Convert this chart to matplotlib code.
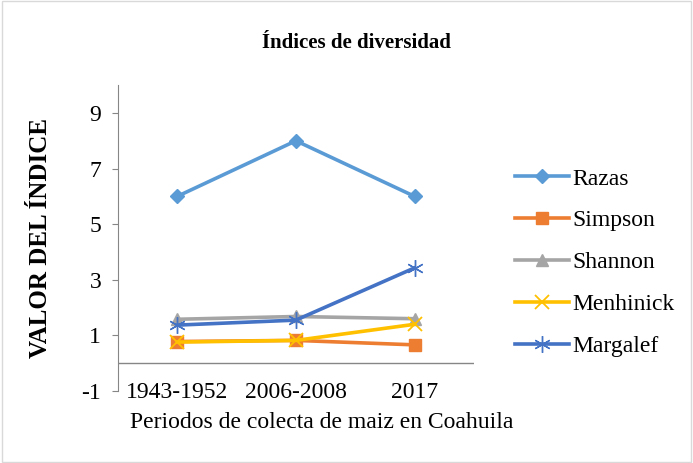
import matplotlib
matplotlib.use("Agg")
import matplotlib.pyplot as plt
from matplotlib.patches import Rectangle

periods = ["1943-1952", "2006-2008", "2017"]
razas = [6, 8, 6]
simpson = [0.78, 0.82, 0.66]
shannon = [1.58, 1.68, 1.6]
menhinick = [0.76, 0.82, 1.4]
margalef = [1.37, 1.55, 3.43]
yticks = [-1, 1, 3, 5, 7, 9]

plt.rcParams['font.family'] = ['Liberation Serif', 'DejaVu Serif']

fig = plt.figure(figsize=(6.93, 4.63), dpi=100)
fig.patches.append(Rectangle((0.003, 0.003), 0.994, 0.994, transform=fig.transFigure,
                             fill=False, edgecolor='#D9D9D9', linewidth=1))
ax = fig.add_axes([0.170, 0.1555, 0.514, 0.6605])

x = list(range(len(periods)))
series = [
    ("Razas", razas, '#5B9BD5', dict(marker='D', markersize=7)),
    ("Simpson", simpson, '#ED7D31', dict(marker='s', markersize=9)),
    ("Shannon", shannon, '#A5A5A5', dict(marker='^', markersize=9)),
    ("Menhinick", menhinick, '#FFC000', dict(marker='x', markersize=10, markeredgewidth=1.3)),
    ("Margalef", margalef, '#4472C4', dict(marker=(6, 2, 0), markersize=12, markeredgewidth=1.0)),
]
for name, vals, col, mk in series:
    ax.plot(x, vals, color=col, linewidth=2.6, label=name,
            markerfacecolor=col, markeredgecolor=col, **mk)

ax.set_xlim(-0.5, 2.5)
ax.set_ylim(-1, 10)
ax.set_yticks(yticks)
ax.set_yticklabels([str(t) for t in yticks], fontsize=17)
ax.set_xticks(x)
ax.set_xticklabels(periods, fontsize=17)
for lab in ax.get_xticklabels():
    lab.set_verticalalignment('center')
ax.tick_params(axis='x', length=0, pad=1)
ax.tick_params(axis='y', length=4.5, color='#868686', direction='out', pad=7.5)

for s in ['top', 'right', 'bottom']:
    ax.spines[s].set_visible(False)
ax.spines['left'].set_color('#868686')
ax.axhline(0, color='#868686', linewidth=1, zorder=0)

fig.text(322 / 693, 1 - 422 / 463, "Periodos de colecta de maiz en Coahuila",
         ha='center', va='center', fontsize=17)
ax.set_ylabel("VALOR DEL ÍNDICE", fontsize=18, fontweight='bold', labelpad=21)

fig.text(0.515, 0.908, "Índices de diversidad", ha='center', va='center',
         fontsize=15, fontweight='bold')

leg = ax.legend(loc='center left', bbox_to_anchor=(1.115, 0.42), frameon=False,
                fontsize=17, handlelength=2.3, labelspacing=0.86, handletextpad=0.15,
                borderaxespad=0, borderpad=0)

fig.savefig("out.png", dpi=100)
